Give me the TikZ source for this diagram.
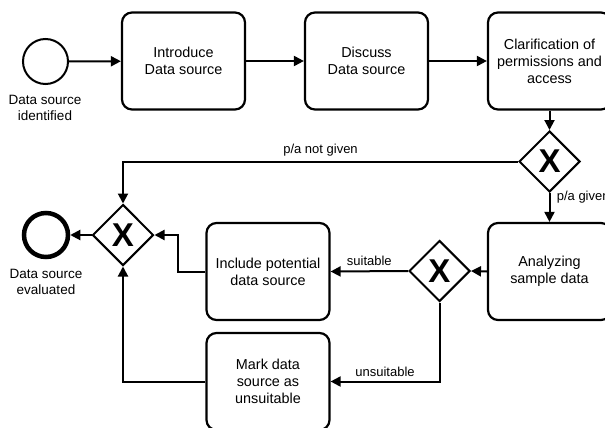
\documentclass[tikz,border=0pt]{standalone}
\usepackage{fontspec}
\setmainfont{Liberation Sans}
\usetikzlibrary{shapes.geometric,arrows.meta}
\begin{document}
\begin{tikzpicture}[x=1pt,y=-1pt,
  task/.style={draw,line width=2.2pt,rounded corners=10pt,minimum width=123pt,minimum height=97pt,align=center,font=\fontsize{14.4}{17}\selectfont,inner sep=2pt},
  gate/.style={draw,diamond,line width=2pt,minimum width=61pt,minimum height=61pt,inner sep=0pt,font=\fontsize{33}{33}\selectfont\bfseries},
  startev/.style={draw,circle,line width=2pt,minimum size=45pt,inner sep=0pt},
  endev/.style={draw,circle,line width=4.5pt,minimum size=44pt,inner sep=0pt},
  evlabel/.style={align=center,font=\fontsize{13.5}{16}\selectfont},
  lbl/.style={font=\fontsize{13}{15}\selectfont},
  flow/.style={line width=2pt,-{Triangle[length=10pt,width=10pt]}}]
\useasboundingbox (0,0) rectangle (605,428);
\node[startev] (start) at (45.5,61.5) {};
\node[evlabel] (startl) at (45,108) {Data source\\identified};
\node[task] (intro) at (183.5,61) {Introduce\\Data source};
\node[task] (disc) at (366.5,61) {Discuss\\Data source};
\node[task] (clar) at (549.5,61) {Clarification of\\permissions and\\access};
\node[gate] (g1) at (549.5,161.5) {X};
\node[task] (ana) at (549.5,271.5) {Analyzing\\sample data};
\node[gate] (g3) at (439.5,271) {X};
\node[task] (incl) at (268,271.5) {Include potential\\data source};
\node[task] (mark) at (268,381.5) {Mark data\\source as\\unsuitable};
\node[gate] (g2) at (123,235) {X};
\node[endev] (end) at (46,235) {};
\node[evlabel] (endl) at (46,282) {Data source\\evaluated};
\draw[flow] (start) -- (intro);
\draw[flow] (intro) -- (disc);
\draw[flow] (disc) -- (clar);
\draw[flow] (clar.south) -- (g1.north);
\draw[flow] (g1.west) -| node[lbl,pos=0.25,above=1pt] {p/a not given} (g2.north);
\draw[flow] (g1.south) -- node[lbl,pos=0.15,right=3pt] {p/a given} (ana.north);
\draw[flow] (ana.west) -- (g3.east);
\draw[flow] (g3.west) -- node[lbl,above=1pt] {suitable} (incl.east);
\draw[flow] (g3.south) |- node[lbl,pos=0.75,above=1pt] {unsuitable} (mark.east);
\draw[flow] (incl.west) -- ++(-27,0) |- (g2.east);
\draw[flow] (mark.west) -| (g2.south);
\draw[flow] (g2.west) -- (end.east);
\end{tikzpicture}
\end{document}
